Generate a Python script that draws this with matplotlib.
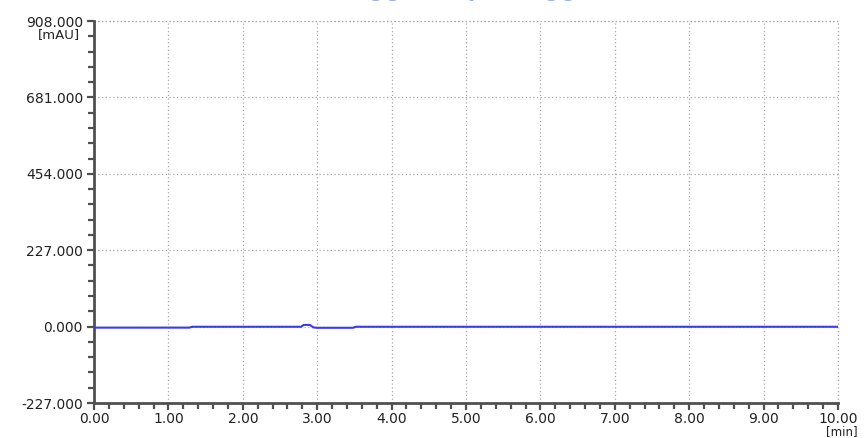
import numpy as np
import matplotlib
matplotlib.use('Agg')
import matplotlib.pyplot as plt
from matplotlib.ticker import MultipleLocator, FixedLocator

# chromatogram trace (time in min, signal in mAU)
time_min = [0.00, 1.28, 1.32, 2.78, 2.82, 2.90, 2.95, 3.00, 3.48, 3.52, 10.00]
signal_mau = [-3.0, -3.0, -0.5, -0.5, 5.0, 5.0, -2.5, -3.5, -3.5, -0.5, -0.5]

y_ticks = [-227.0, 0.0, 227.0, 454.0, 681.0, 908.0]
x_ticks = [0, 1, 2, 3, 4, 5, 6, 7, 8, 9, 10]

fig = plt.figure(figsize=(8.65, 4.38), dpi=100)
ax = fig.add_axes([0.1087, 0.0799, 0.8601, 0.8721])

ax.plot(time_min, signal_mau, color='#3a3aee', linewidth=1.5, zorder=3)

ax.set_xlim(0, 10)
ax.set_ylim(-227, 908)

ax.xaxis.set_major_locator(FixedLocator(x_ticks))
ax.xaxis.set_minor_locator(MultipleLocator(0.2))
ax.yaxis.set_major_locator(FixedLocator(y_ticks))
ax.yaxis.set_minor_locator(MultipleLocator(45.4))

ax.set_xticklabels(['%.2f' % t for t in x_ticks])
ax.set_yticklabels(['%.3f' % v for v in y_ticks])

ax.grid(True, which='major', linestyle=(0, (1, 2)), color='#a8a8a8', linewidth=0.9)

for side in ['top', 'right']:
    ax.spines[side].set_visible(False)
for side in ['left', 'bottom']:
    ax.spines[side].set_color('#505050')
    ax.spines[side].set_linewidth(2)

ax.tick_params(axis='both', which='major', direction='out', length=5, width=1.6,
               color='#505050', labelsize=10, labelcolor='#222222', pad=3)
ax.tick_params(axis='x', which='major', pad=1.5)
ax.tick_params(axis='both', which='minor', direction='out', length=4, width=1.6,
               color='#505050')

# the 908 line and the 10 min line close the box as dotted lines
ax.axhline(908, linestyle=(0, (1, 2)), color='#a8a8a8', linewidth=0.9, clip_on=False)
ax.axvline(10, linestyle=(0, (1, 2)), color='#a8a8a8', linewidth=0.9, clip_on=False)

# units
fig.text(80 / 865, 1 - 35 / 438, '[mAU]', ha='right', va='center', fontsize=9.5, color='#222222')
fig.text(842 / 865, 0.0, '[min]', ha='center', va='bottom', fontsize=8.5, color='#222222')

# title, cut off by the top edge so only its descenders show
fig.text(458 / 865, 1.0 + 5 / 438, 'Digg Sample Digg', ha='center', va='baseline',
         fontsize=20, fontweight='bold', color='#9ab2d8', family='Liberation Sans')

fig.savefig('out.png', dpi=100)
